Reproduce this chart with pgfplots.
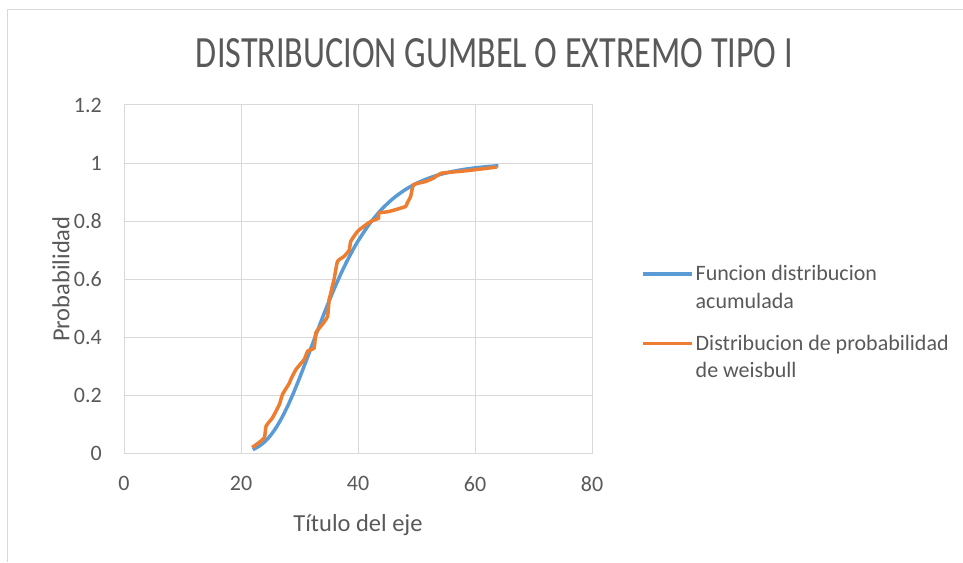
\documentclass[border=0pt]{standalone}
\usepackage{fontspec}
\setmainfont{Carlito}
\usepackage{graphicx}
\usepackage{pgfplots}
\pgfplotsset{compat=1.18}
\definecolor{gridgray}{HTML}{D9D9D9}
\definecolor{txtgray}{HTML}{595959}
\definecolor{cblue}{HTML}{5B9BD5}
\definecolor{corange}{HTML}{ED7D31}
\begin{document}
\begin{tikzpicture}
\path[use as bounding box] (0pt,0pt) rectangle (963pt,562pt);
\draw[gridgray,line width=1pt] (7pt,0pt) -- (7pt,552.7pt) -- (963pt,552.7pt);
\node[text=txtgray, anchor=center, inner sep=0pt] at (494.5pt,509pt) {\resizebox{597pt}{29pt}{\fontsize{44}{50}\selectfont DISTRIBUCION GUMBEL O EXTREMO TIPO I}};
\begin{axis}[
  at={(124pt,108.7pt)}, anchor=south west,
  scale only axis, width=468pt, height=348.3pt,
  xmin=0, xmax=80, ymin=0, ymax=1.2,
  xtick={0,20,40,60,80}, ytick={0,0.2,0.4,0.6,0.8,1,1.2},
  grid=major, major grid style={gridgray, line width=1pt},
  axis line style={gridgray, line width=1pt},
  major tick length=0pt,
  /pgf/number format/assume math mode=true,
  ticklabel style={font=\fontsize{22}{26}\selectfont, text=txtgray, inner sep=0pt},
  xticklabel style={anchor=north, yshift=-23pt},
  yticklabel style={anchor=east, xshift=-22pt},
  xlabel={Título del eje},
  xlabel style={at={(axis description cs:0.5,-0.2251)}, anchor=base, font=\fontsize{24.5}{28}\selectfont, text=txtgray, inner sep=0pt},
  ylabel={Probabilidad},
  ylabel style={at={(axis description cs:-0.1169,0.5)}, anchor=base, font=\fontsize{24.5}{28}\selectfont, text=txtgray, inner sep=0pt},
  legend style={at={(axis description cs:1.1047,0.545)}, anchor=north west, draw=none, fill=none,
    font=\fontsize{22}{27.5}\selectfont, text=txtgray, inner sep=0pt, row sep=21pt, column sep=0pt,
    cells={align=left, anchor=north west}},
  legend cell align=left,
  legend image code/.code={\coordinate (lgA) at (0pt,-13.75pt); \draw[#1] (0pt,13.75pt) -- (49pt,13.75pt);},
]
\addplot[cblue, line width=3.5pt, smooth, tension=0.4] coordinates {
(22,0.0129) (23,0.0233) (24,0.0388) (25,0.0604) (26,0.0885) (27,0.1230)
(28,0.1636) (29,0.2093) (30,0.2589) (31,0.3111) (32,0.3647) (33,0.4183)
(34,0.4709) (35,0.5217) (36,0.5700) (37,0.6153) (38,0.6573) (39,0.6959)
(40,0.7311) (42,0.7915) (44,0.8399) (46,0.8778) (48,0.9073) (50,0.9300)
(52,0.9472) (54,0.9603) (56,0.9702) (58,0.9777) (60,0.9833) (62,0.9875)
(64,0.9907)
};
\addlegendentry{Funcion distribucion\\acumulada}
\addplot[corange, line width=3.5pt, smooth, tension=0.3] coordinates {
(21.9,0.020) (23.0,0.036) (24.0,0.054) (24.3,0.094) (25.4,0.123) (26.55,0.168)
(27.1,0.203) (28.3,0.243) (28.5,0.254) (29.4,0.289) (30.8,0.323) (31.4,0.352)
(32.5,0.363) (32.8,0.415) (33.9,0.444) (34.8,0.472) (35.06,0.530) (35.3,0.547)
(35.6,0.575) (35.9,0.598) (36.5,0.661) (37.6,0.678) (38.5,0.700) (38.76,0.730)
(39.9,0.764) (41.0,0.782) (42.2,0.799) (43.5,0.810) (43.6,0.828) (45.3,0.833)
(48.1,0.850) (48.4,0.862) (49.0,0.885) (49.5,0.925) (51.5,0.936) (52.9,0.948)
(54.3,0.965) (58.3,0.973) (63.7,0.986)
};
\addlegendentry{Distribucion de probabilidad\\de weisbull}
\end{axis}
\end{tikzpicture}
\end{document}
